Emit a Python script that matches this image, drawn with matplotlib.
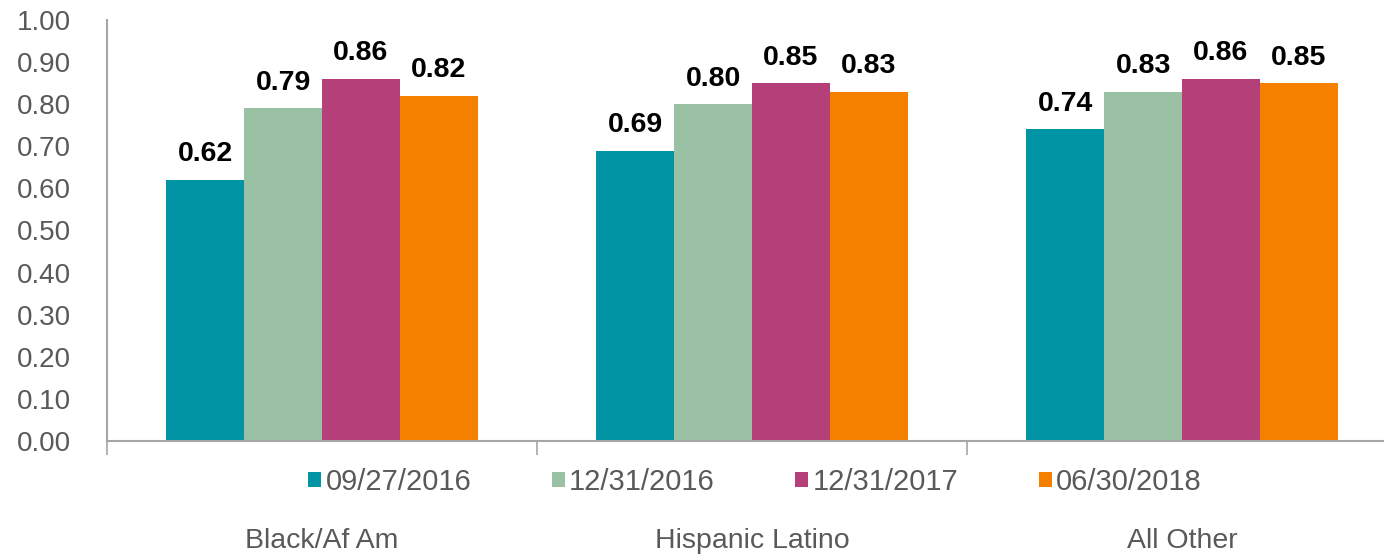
import numpy as np
import matplotlib.pyplot as plt

plt.rcParams['font.family'] = ['Liberation Sans', 'DejaVu Sans']

groups = ['Black/Af Am', 'Hispanic Latino', 'All Other']
dates = ['09/27/2016', '12/31/2016', '12/31/2017', '06/30/2018']
values = {
    '09/27/2016': [0.62, 0.69, 0.74],
    '12/31/2016': [0.79, 0.80, 0.83],
    '12/31/2017': [0.86, 0.85, 0.86],
    '06/30/2018': [0.82, 0.83, 0.85],
}
colors = ['#0094A4', '#9BC1A5', '#B53F79', '#F58000']

gray = '#595959'
fig = plt.figure(figsize=(13.84, 5.55), dpi=100)
ax = fig.add_axes([107 / 1384, 1 - 441 / 555, 1290 / 1384, 421 / 555])

x = np.arange(len(groups))
w = 0.181
for i, d in enumerate(dates):
    pos = x + (i - 1.5) * w
    bars = ax.bar(pos, values[d], width=w, color=colors[i], label=d, linewidth=0)
    for b, v in zip(bars, values[d]):
        ax.annotate(f'{v:.2f}', (b.get_x() + b.get_width() / 2, v),
                    xytext=(0, 9), textcoords='offset points',
                    ha='center', va='bottom', fontsize=20.5, fontweight='bold')

ax.set_xlim(-0.5, len(groups) - 0.5)
ax.set_ylim(0, 1.0)
ax.set_yticks(np.arange(0, 1.01, 0.1))
ax.set_yticklabels([f'{t:.2f}' for t in np.arange(0, 1.01, 0.1)])
ax.tick_params(axis='y', length=0, pad=26, labelsize=20, labelcolor=gray)

ax.set_xticks(x)
ax.set_xticklabels(groups)
ax.tick_params(axis='x', which='major', length=0, pad=63, labelsize=20.5, labelcolor=gray)
ax.set_xticks(np.arange(-0.5, len(groups)), minor=True)
ax.tick_params(axis='x', which='minor', length=10, width=1.2, color='#a6a6a6')

for s in ['top', 'right']:
    ax.spines[s].set_visible(False)
for s in ['left', 'bottom']:
    ax.spines[s].set_color('#a6a6a6')
    ax.spines[s].set_linewidth(1.5)

leg = fig.legend(loc='center', bbox_to_anchor=(755 / 1384, 1 - 482 / 555), ncol=4,
                 frameon=False, fontsize=21, handlelength=0.45, handleheight=0.45,
                 handletextpad=0.15, columnspacing=2.75)
for t in leg.get_texts():
    t.set_color(gray)

fig.savefig('out.png', dpi=100)
